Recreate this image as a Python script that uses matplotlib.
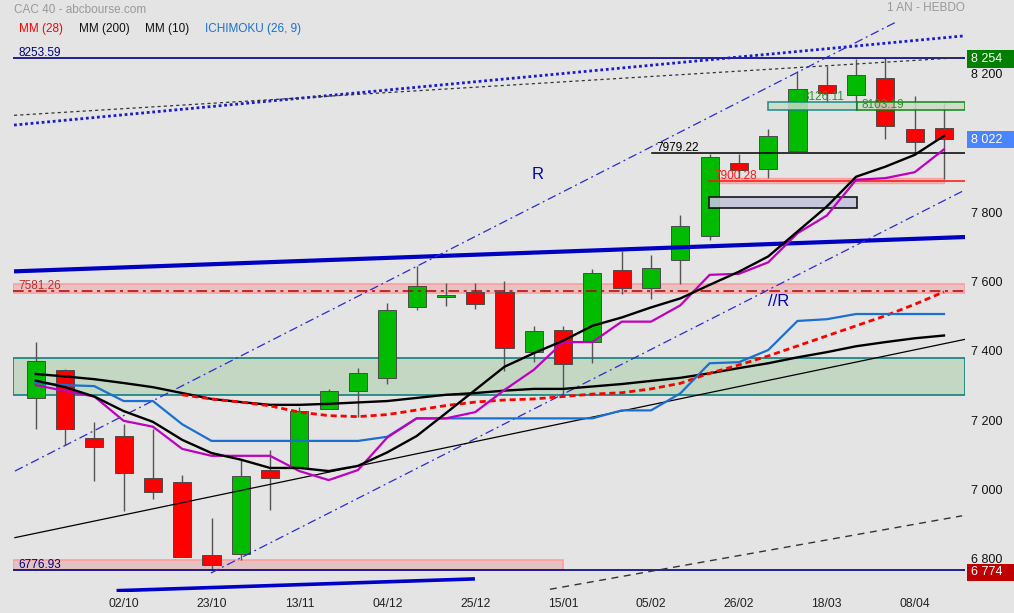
import matplotlib
matplotlib.use('Agg')
import matplotlib.pyplot as plt
import matplotlib.transforms as mtransforms
from matplotlib.patches import Rectangle

plt.rcParams['font.family'] = ['Liberation Sans', 'DejaVu Sans']

# ---------------- data (weekly CAC 40) ----------------
opens  = [7275, 7355, 7158, 7164, 7043, 7031, 6820, 6825, 7066, 7072, 7241, 7293, 7331, 7535, 7564, 7580,
          7580, 7406, 7469, 7436, 7642, 7592, 7673, 7742, 7951, 7933, 7985, 8177, 8147, 8196, 8050, 8053]
highs  = [7435, 7358, 7204, 7198, 7184, 7052, 6927, 7095, 7124, 7249, 7300, 7360, 7547, 7655, 7605, 7605,
          7611, 7482, 7482, 7646, 7698, 7686, 7802, 7978, 7978, 8050, 8217, 8231, 8252, 8253.59, 8145, 8126]
lows   = [7184, 7138, 7035, 6948, 6983, 6815, 6776.93, 6807, 6951, 7072, 7241, 7220, 7315, 7528, 7540, 7531,
          7353, 7379, 7278, 7376, 7573, 7559, 7603, 7730, 7907, 7909, 7985, 8126.11, 8103.19, 8022, 7977, 7905]
closes = [7380, 7184, 7133, 7058, 7004, 6816, 6793, 7049, 7044, 7236, 7294, 7345, 7527, 7596, 7571, 7544,
          7419, 7467, 7371, 7633, 7592, 7648, 7770, 7969, 7931, 8029, 8164, 8154, 8205, 8059, 8011, 8022]

mm10  = [7324, 7305, 7278, 7236, 7205, 7153, 7115, 7096, 7072, 7072, 7063, 7078, 7117, 7164, 7230, 7297,
         7364, 7403, 7439, 7482, 7506, 7535, 7561, 7600, 7638, 7682, 7754, 7826, 7912, 7941, 7975, 8030]
mm200 = [7343, 7336, 7328, 7317, 7305, 7288, 7271, 7262, 7254, 7254, 7257, 7261, 7265, 7274, 7283, 7288,
         7295, 7300, 7300, 7307, 7314, 7323, 7332, 7345, 7360, 7374, 7391, 7406, 7423, 7435, 7446, 7454]
mm28_start = 5
mm28  = [7283, 7271, 7262, 7251, 7233, 7223, 7220, 7226, 7239, 7252, 7262, 7268, 7271, 7278, 7285, 7289,
         7300, 7316, 7345, 7369, 7395, 7424, 7453, 7482, 7511, 7544, 7580]
tenkan = [7311, 7294, 7278, 7208, 7191, 7127, 7107, 7107, 7107, 7063, 7037, 7066, 7160, 7215, 7215, 7233,
          7297, 7355, 7435, 7435, 7494, 7494, 7541, 7629, 7632, 7665, 7749, 7800, 7903, 7908, 7925, 7991]
kijun  = [7318, 7311, 7308, 7265, 7265, 7198, 7150, 7150, 7150, 7150, 7150, 7150, 7162, 7215, 7215, 7215,
          7215, 7215, 7215, 7215, 7238, 7238, 7287, 7374, 7377, 7412, 7496, 7501, 7516, 7516, 7516, 7516]

tick_idx = [3, 6, 9, 12, 15, 18, 21, 24, 27, 30]
tick_labels = ['02/10', '23/10', '13/11', '04/12', '25/12', '15/01', '05/02', '26/02', '18/03', '08/04']

price_ticks = [8200, 7800, 7600, 7400, 7200, 7000, 6800]
price_boxes = [(8254, '8 254', '#007f00'), (8022, '8 022', '#4a84ff'), (6774, '6 774', '#c00000')]

# levels / zones
year_high = 8253.59
year_low = 6776.93
level_7581 = 7581.26
level_7979 = 7979.22
level_7900 = 7900.28
level_8126 = 8126.11
level_8103 = 8103.19
green_zone = (7281, 7388)
pink_zone_7581 = (7576, 7602)
pink_zone_low = (6776.93, 6805.7)
grey_box = (22.98, 28.02, 7821, 7854)

# trend lines: (i0, v0, i1, v1)
thick_R = (-0.74, 7639, 31.72, 7738)
thick_bottom = (2.76, 6718, 14.99, 6752)
blue_dotted = (-0.74, 8061, 31.65, 8318)
black_dotted = (-0.74, 8089, 31.65, 8256)
channel_up = (-0.71, 7063, 29.43, 8361)
channel_low = (5.98, 6769, 31.72, 7874)
black_trend = (-0.71, 6871, 31.72, 7443)
black_dashed = (17.55, 6722, 31.62, 6934)

# ---------------- figure ----------------
W, H = 1014, 613
fig = plt.figure(figsize=(W / 100, H / 100), dpi=100)
fig.patch.set_facecolor('#e4e4e4')
ax = fig.add_axes([13 / W, (H - 592) / H, (965 - 13) / W, (592 - 18) / H])
ax.set_facecolor('#e4e4e4')
XMIN, XMAX = -0.775, 31.717
YMIN, YMAX = 6714.2, 8369.8
ax.set_xlim(XMIN, XMAX)
ax.set_ylim(YMIN, YMAX)
for s in ax.spines.values():
    s.set_visible(False)
ax.set_yticks([])
ax.set_xticks(tick_idx)
ax.set_xticklabels(tick_labels)
ax.tick_params(axis='x', length=0, pad=4, labelsize=8.7, colors='#222222')

# zones
ax.axhspan(*green_zone, facecolor='#c3d7c3', edgecolor='#0e8080', lw=1.2, zorder=1)
ax.axhspan(*pink_zone_7581, facecolor='#e8c2c2', edgecolor='#ff9c9c', lw=1.2, zorder=1)
ax.add_patch(Rectangle((XMIN, pink_zone_low[0]), 18.0 - XMIN, pink_zone_low[1] - pink_zone_low[0],
                       facecolor='#e2c2c2', edgecolor='#ff9c9c', lw=1.2, zorder=1))
ax.add_patch(Rectangle((23.0, 7895), 8.0, 13, facecolor='#f0b8b8', edgecolor='#ffa0a0', lw=1, zorder=1))

# candles
n = len(opens)
xs = list(range(n))
ax.vlines(xs, lows, highs, color='#555555', lw=1.0, zorder=3)
bottoms = [min(o, c) for o, c in zip(opens, closes)]
heights = [max(abs(c - o), 3) for o, c in zip(opens, closes)]
colors = ['#00bb00' if c >= o else '#ff0000' for o, c in zip(opens, closes)]
ax.bar(xs, heights, bottom=bottoms, width=0.62, color=colors, edgecolor='#4a4a4a', lw=0.7, zorder=4)

# small rectangles
ax.add_patch(Rectangle((grey_box[0], grey_box[2]), grey_box[1] - grey_box[0], grey_box[3] - grey_box[2],
                       facecolor='#c4c4dc', edgecolor='black', lw=1.2, alpha=0.9, zorder=5))
ax.add_patch(Rectangle((25.0, level_8103), 28.02 - 25.0, level_8126 - level_8103,
                       facecolor='#c8dcc8', edgecolor='#0e8080', lw=1.2, alpha=0.85, zorder=5))
ax.add_patch(Rectangle((28.02, level_8103), XMAX - 28.02, level_8126 - level_8103,
                       facecolor='#c8dcc8', edgecolor='#008000', lw=1.2, alpha=0.85, zorder=5))

# horizontal levels
ax.axhline(year_high, color='#000080', lw=1.2, zorder=5)
ax.axhline(year_low, color='#000080', lw=1.2, zorder=5)
ax.axhline(level_7581, color='#b00000', lw=1.1, ls=(0, (7, 3, 2, 3)), zorder=5)
ax.plot([21.02, XMAX], [level_7979, level_7979], color='black', lw=1.1, zorder=5)
ax.plot([22.98, XMAX], [level_7900, level_7900], color='#ff1010', lw=1.1, zorder=5)

# trend lines
def tl(seg, **kw):
    ax.plot([seg[0], seg[2]], [seg[1], seg[3]], **kw)

tl(thick_R, color='#0000c0', lw=3.0, zorder=5, solid_capstyle='butt')
tl(thick_bottom, color='#0000c8', lw=2.6, zorder=5, solid_capstyle='butt')
tl(blue_dotted, color='#1a1ad0', lw=2.0, ls=(0, (1, 1)), zorder=5)
tl(black_dotted, color='#333333', lw=0.9, ls=(0, (2.5, 2.5)), zorder=5)
tl(channel_up, color='#2a2ad8', lw=0.9, ls=(0, (7, 3, 1.5, 3)), zorder=5)
tl(channel_low, color='#2a2ad8', lw=0.9, ls=(0, (7, 3, 1.5, 3)), zorder=5)
tl(black_trend, color='black', lw=0.9, zorder=5)
tl(black_dashed, color='#333333', lw=1.0, ls=(0, (5, 4)), zorder=5)

# indicators
ax.plot(xs, mm200, color='black', lw=1.7, zorder=6)
ax.plot(xs[mm28_start:], mm28, color='#ff0000', lw=2.0, ls=(0, (2.2, 1.4)), zorder=6)
ax.plot(xs, kijun, color='#1a70d0', lw=1.6, zorder=6)
ax.plot(xs, tenkan, color='#c000c0', lw=1.6, zorder=7)
ax.plot(xs, mm10, color='black', lw=1.7, zorder=8)

# level labels
def lab(x, y, s, color, dy=2):
    ax.annotate(s, (x, y), xytext=(0, dy), textcoords='offset points', fontsize=8.5, color=color,
                ha='left', va='baseline', zorder=9)

lab(-0.6, year_high, f'{year_high:.2f}', '#000080', 1.6)
lab(-0.6, year_low, f'{year_low:.2f}', '#000080', 1.6)
lab(-0.6, level_7581, f'{level_7581:.2f}', '#c03030', 1.6)
lab(21.17, level_7979, f'{level_7979:.2f}', 'black', 1.6)
lab(23.15, level_7900, f'{level_7900:.2f}', '#ff1a1a', 1.6)
lab(26.18, level_8126, f'{level_8126:.2f}', '#2e8f2e', 1.6)
lab(28.17, level_8103, f'{level_8103:.2f}', '#2e8f2e', 1.6)

ax.text(17.14, 7917, 'R', color='#0000c0', fontsize=12, ha='center', va='center', zorder=9)
ax.text(25.34, 7551, '//R', color='#0000c0', fontsize=12, ha='center', va='center', zorder=9)

# right price axis (labels sit ~2 px above their level, as in the original)
trans = mtransforms.blended_transform_factory(fig.transFigure, ax.transData)
off = mtransforms.ScaledTranslation(0, 2 / 100, fig.dpi_scale_trans)
for v in price_ticks:
    ax.text(971 / W, v, f'{v:,}'.replace(',', ' '), transform=trans + off, ha='left', va='center',
            fontsize=9, color='#111111', clip_on=False)
down = mtransforms.ScaledTranslation(0, -1 / 100, fig.dpi_scale_trans)
for v, s, c in price_boxes:
    ax.add_patch(Rectangle((967 / W, v - 25), (W - 967) / W, 50, transform=trans + down, facecolor=c,
                           edgecolor='none', clip_on=False, zorder=10))
    ax.text(971 / W, v, s, transform=trans + down, ha='left', va='center', fontsize=9, color='white',
            clip_on=False, zorder=11)

# header texts
fig.text(14 / W, 1 - 10 / H, 'CAC 40 - abcbourse.com', fontsize=8.5, color='#999999', ha='left', va='center')
fig.text(965 / W, 1 - 8 / H, '1 AN - HEBDO', fontsize=8.5, color='#999999', ha='right', va='center')
legend_items = [('MM (28)', '#ff0000', 19), ('MM (200)', '#111111', 79), ('MM (10)', '#111111', 145),
                ('ICHIMOKU (26, 9)', '#1a70d0', 205)]
for s, c, xp in legend_items:
    fig.text(xp / W, 1 - 29 / H, s, fontsize=8.5, color=c, ha='left', va='center')

fig.savefig('out.png', dpi=100, facecolor=fig.get_facecolor())
